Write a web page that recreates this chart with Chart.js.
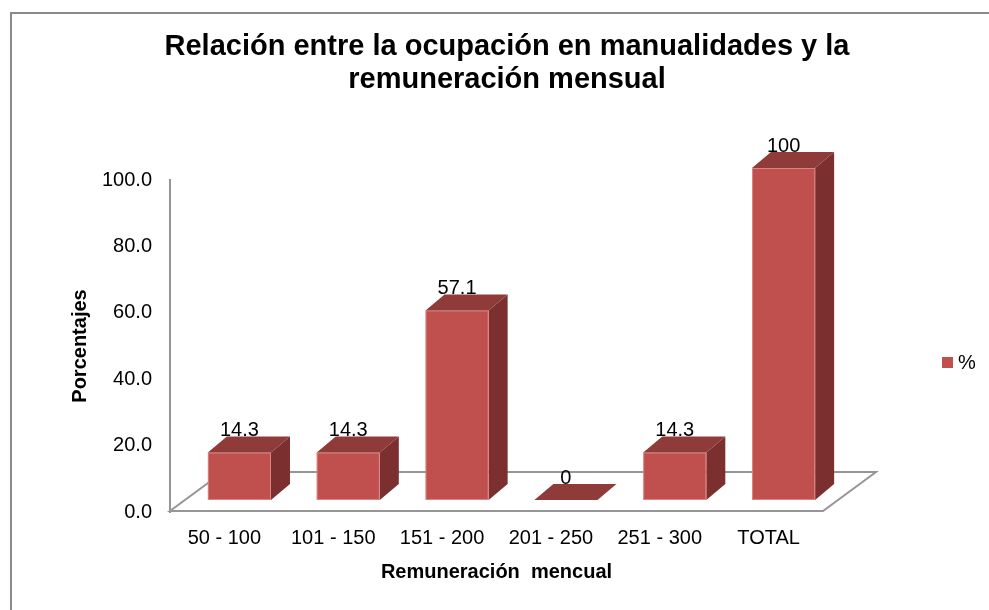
<!DOCTYPE html>
<html>
<head>
<meta charset="utf-8">
<script src="https://cdn.jsdelivr.net/npm/chart.js@4.4.0/dist/chart.umd.min.js"></script>
<style>
  html, body { margin: 0; padding: 0; background: #fff; }
  #wrap { width: 989px; height: 610px; }
</style>
</head>
<body>
<div id="wrap"><canvas id="bar"></canvas></div>
<script>
const categories = ['50 - 100', '101 - 150', '151 - 200', '201 - 250', '251 - 300', 'TOTAL']
const percentages = [14.3, 14.3, 57.1, 0, 14.3, 100]
const valueLabels = ['14.3', '14.3', '57.1', '0', '14.3', '100']
const titleLines = ['Relación entre la ocupación en manualidades y la', 'remuneración mensual']
const seriesName = '%'

const FONT = '"Liberation Sans", Arial, sans-serif'
const front = '#c0504d'
const topFace = '#8f3b3a'
const sideFace = '#7b302f'
const lineGray = '#969696'

// 3d look: depth of the floor, shift of bar front face, depth of each bar
const floorDepth = { dx: 53, dy: -39 }
const barShift = { dx: 15, dy: -12 }
const barDepth = { dx: 19, dy: -16 }

function poly(ctx, pts, fill) {
    ctx.beginPath()
    ctx.moveTo(pts[0][0], pts[0][1])
    for (let i = 1; i < pts.length; i++) ctx.lineTo(pts[i][0], pts[i][1])
    ctx.closePath()
    ctx.fillStyle = fill
    ctx.fill()
}

const bars3d = {
    id: 'bars3d',
    beforeDraw(chart) {
        const ctx = chart.ctx
        const area = chart.chartArea
        ctx.save()
        // outer frame
        ctx.strokeStyle = '#8a8a8a'
        ctx.lineWidth = 2
        ctx.beginPath()
        ctx.moveTo(11, 610)
        ctx.lineTo(11, 13)
        ctx.lineTo(989, 13)
        ctx.stroke()
        // title
        ctx.fillStyle = '#000'
        ctx.font = 'bold 29px ' + FONT
        ctx.textAlign = 'center'
        ctx.textBaseline = 'alphabetic'
        ctx.fillText(titleLines[0], 507, 55)
        ctx.fillText(titleLines[1], 507, 88)
        // floor
        const y0 = chart.scales.y.getPixelForValue(0) - 1
        ctx.strokeStyle = lineGray
        ctx.lineWidth = 2
        ctx.beginPath()
        ctx.moveTo(area.left, y0)
        ctx.lineTo(area.right, y0)
        ctx.lineTo(area.right + floorDepth.dx, y0 + floorDepth.dy)
        ctx.lineTo(area.left + floorDepth.dx, y0 + floorDepth.dy)
        ctx.closePath()
        ctx.stroke()
        // legend
        const ds = chart.data.datasets[0]
        ctx.fillStyle = ds.backgroundColor
        ctx.fillRect(942, 357, 11, 11)
        ctx.fillStyle = '#000'
        ctx.font = '20px ' + FONT
        ctx.textAlign = 'left'
        ctx.textBaseline = 'middle'
        ctx.fillText(ds.label, 958, 363)
        ctx.restore()
    },
    beforeDatasetsDraw(chart) {
        const ctx = chart.ctx
        const meta = chart.getDatasetMeta(0)
        ctx.save()
        meta.data.forEach((el, i) => {
            const w = el.width
            const x1 = el.x - w / 2 + barShift.dx
            const x2 = el.x + w / 2 + barShift.dx
            const yt = el.y + barShift.dy
            const yb = el.base + barShift.dy
            const dx = barDepth.dx, dy = barDepth.dy
            if (yb - yt > 0.5) {
                poly(ctx, [[x2, yt], [x2 + dx, yt + dy], [x2 + dx, yb + dy], [x2, yb]], sideFace)
                poly(ctx, [[x1, yt], [x2, yt], [x2, yb], [x1, yb]], front)
                ctx.strokeStyle = 'rgba(255,190,190,0.45)'
                ctx.lineWidth = 1
                ctx.strokeRect(x1 + 0.5, yt + 0.5, x2 - x1 - 1, yb - yt - 1)
            }
            poly(ctx, [[x1, yt], [x1 + dx, yt + dy], [x2 + dx, yt + dy], [x2, yt]], topFace)
            ctx.fillStyle = '#000'
            ctx.font = '20px ' + FONT
            ctx.textAlign = 'center'
            ctx.textBaseline = 'middle'
            ctx.fillText(valueLabels[i], (x1 + x2) / 2, yt - 22)
        })
        ctx.restore()
        return false
    }
}

Chart.defaults.font.family = FONT
Chart.defaults.color = '#000'

const ctx = document.getElementById('bar').getContext('2d')
const bars = new Chart(ctx, {
    type: 'bar',
    data: {
        labels: categories,
        datasets: [{
            label: seriesName,
            data: percentages,
            backgroundColor: front,
            barPercentage: 0.58,
            categoryPercentage: 1
        }]
    },
    options: {
        responsive: true,
        maintainAspectRatio: false,
        animation: false,
        layout: { padding: { left: 10, top: 180, right: 166, bottom: 0 } },
        plugins: {
            legend: { display: false },
            title: { display: false },
            tooltip: { enabled: false }
        },
        scales: {
            x: {
                grid: { display: false, drawTicks: false },
                border: { display: false },
                ticks: { font: { size: 20 }, padding: 14, maxRotation: 0, autoSkip: false },
                title: {
                    display: true,
                    text: 'Remuneración  mencual',
                    font: { size: 20, weight: 'bold' },
                    padding: { top: 0, bottom: 26 }
                },
                afterFit(scale) { scale.height = 98 }
            },
            y: {
                min: 0,
                max: 100,
                grid: { display: false, drawTicks: false },
                border: { display: true, color: lineGray, width: 2 },
                ticks: {
                    stepSize: 20,
                    font: { size: 20 },
                    padding: 18,
                    callback: v => v.toFixed(1)
                },
                title: {
                    display: true,
                    text: 'Porcentajes',
                    font: { size: 20, weight: 'bold' },
                    padding: { top: 58, bottom: 0 }
                },
                afterFit(scale) { scale.width = 160 }
            }
        }
    },
    plugins: [bars3d]
})
</script>
</body>
</html>
